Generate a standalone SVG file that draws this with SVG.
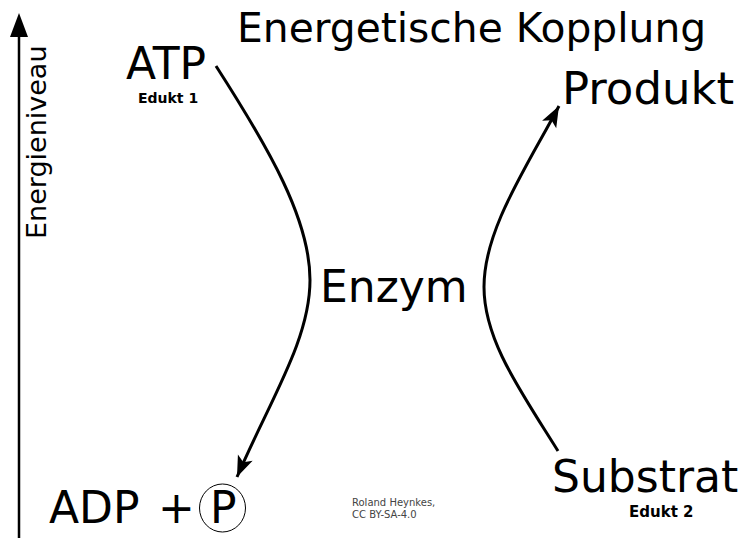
<svg xmlns="http://www.w3.org/2000/svg" width="747" height="538" viewBox="0 0 747 538">
<style>
text{font-family:"DejaVu Sans","Liberation Sans",sans-serif;fill:#000}
.big{font-size:44px}
.sub{font-size:14px;font-weight:bold}
.credit{font-size:10px;fill:#444}
.conn{fill:none;stroke:#000;stroke-width:3}
</style>
<defs>
<marker id="ah" viewBox="-22 -9 24 18" refX="0" refY="0" markerWidth="24" markerHeight="18" markerUnits="userSpaceOnUse" orient="auto">
<path d="M0,0 L-21,-8 L-16,0 L-21,8 Z" fill="#000"/>
</marker>
</defs>
<rect width="747" height="538" fill="#fff"/>
<g id="title"><text x="237" y="42" style="font-size:40.8px">Energetische Kopplung</text></g>
<g id="axis">
<line x1="19" y1="538" x2="19" y2="32" stroke="#000" stroke-width="2.5"/>
<path d="M19,13 L28,37 L10,37 Z" fill="#000"/>
<text transform="translate(46,239) rotate(-90)" style="font-size:27px">Energieniveau</text>
</g>
<g id="connectors">
<path class="conn" d="M216,66 C270,150 310,220 310,280 C310,340 270,400 237,477" marker-end="url(#ah)"/>
<path class="conn" d="M558,451 C520,390 484,340 484,287 C484,230 525,170 559,106" marker-end="url(#ah)"/>
</g>
<g id="atp">
<text class="big" x="126" y="79">ATP</text>
<text class="sub" x="138" y="103">Edukt 1</text>
</g>
<g id="produkt"><text class="big" x="562" y="104" style="font-size:45px">Produkt</text></g>
<g id="enzym"><text class="big" x="320" y="302">Enzym</text></g>
<g id="adp">
<text class="big" x="49" y="523">ADP</text>
<text class="big" x="158" y="523">+</text>
<ellipse cx="222.5" cy="508" rx="23" ry="24" fill="none" stroke="#000" stroke-width="1"/>
<text class="big" x="210" y="523">P</text>
</g>
<g id="substrat">
<text class="big" x="552" y="492">Substrat</text>
<text class="sub" x="629" y="517" style="font-size:15px">Edukt 2</text>
</g>
<g id="credit">
<text class="credit" x="352" y="506">Roland Heynkes,</text>
<text class="credit" x="352" y="518">CC BY-SA-4.0</text>
</g>
</svg>
